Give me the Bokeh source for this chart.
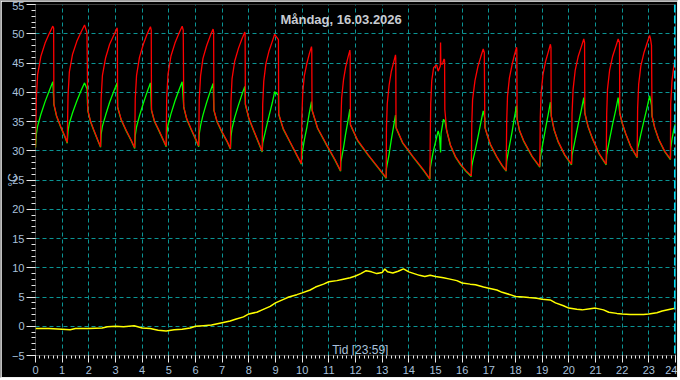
from bokeh.plotting import figure
from bokeh.models import SingleIntervalTicker, Label, Span
from bokeh.embed import file_html
from bokeh.resources import INLINE

# ---------------- data ----------------
title_text = "Måndag, 16.03.2026"
x_label_text = "Tid [23:59]"
y_label_text = "°C"

# supply temperature (red): (hour, °C)
red_pts = [
    (0.00, 30.6), (0.03, 38.9), (0.08, 43.0), (0.20, 46.1), (0.36, 48.4), (0.52, 50.1), (0.65, 51.3), (0.68, 51.0), (0.69, 38.0), (0.79, 36.0), (0.94, 34.2), (1.09, 32.6),
    (1.19, 31.4), (1.22, 39.4), (1.27, 43.5), (1.39, 46.5), (1.55, 48.7), (1.71, 50.3), (1.84, 51.5), (1.93, 50.2), (1.96, 37.0), (2.06, 35.1), (2.20, 33.4), (2.34, 31.8),
    (2.44, 30.7), (2.46, 38.8), (2.51, 42.9), (2.63, 45.9), (2.78, 48.2), (2.94, 49.8), (3.06, 51.0), (3.07, 50.5), (3.08, 37.5), (3.21, 35.4), (3.40, 33.5), (3.59, 31.8),
    (3.72, 30.5), (3.74, 38.8), (3.79, 42.9), (3.90, 46.0), (4.05, 48.3), (4.19, 50.0), (4.31, 51.2), (4.34, 50.6), (4.35, 37.0), (4.46, 35.1), (4.63, 33.5), (4.79, 31.9),
    (4.90, 30.8), (4.92, 39.0), (4.97, 43.1), (5.08, 46.2), (5.23, 48.4), (5.38, 50.1), (5.50, 51.3), (5.54, 50.6), (5.56, 37.5), (5.67, 35.5), (5.84, 33.7), (6.01, 32.0),
    (6.12, 30.8), (6.14, 38.8), (6.19, 42.8), (6.28, 45.8), (6.42, 48.0), (6.55, 49.6), (6.66, 50.8), (6.68, 50.3), (6.69, 37.0), (6.81, 35.0), (7.00, 33.2), (7.19, 31.6),
    (7.31, 30.4), (7.33, 38.4), (7.37, 42.3), (7.47, 45.3), (7.61, 47.5), (7.74, 49.1), (7.85, 50.3), (7.86, 49.8), (7.87, 38.0), (8.00, 35.6), (8.19, 33.4), (8.37, 31.4),
    (8.50, 29.9), (8.52, 37.9), (8.56, 41.9), (8.64, 44.9), (8.76, 47.1), (8.88, 48.7), (8.97, 49.9), (9.11, 49.0), (9.12, 36.3), (9.29, 33.8), (9.55, 31.5), (9.80, 29.3),
    (9.97, 27.8), (9.99, 35.8), (10.02, 39.8), (10.08, 42.8), (10.18, 45.0), (10.27, 46.6), (10.35, 47.8), (10.36, 47.3), (10.37, 37.0), (10.58, 33.9), (10.91, 31.1), (11.23, 28.5),
    (11.44, 26.6), (11.45, 34.8), (11.48, 39.0), (11.55, 42.1), (11.63, 44.3), (11.72, 46.0), (11.79, 47.2), (11.80, 46.5), (11.81, 34.5), (12.08, 31.8), (12.48, 29.3), (12.88, 27.0),
    (13.15, 25.4), (13.16, 33.8), (13.19, 38.0), (13.26, 41.2), (13.34, 43.5), (13.43, 45.1), (13.50, 46.4), (13.51, 45.8), (13.52, 34.0), (13.77, 31.4), (14.16, 29.0), (14.54, 26.8),
    (14.79, 25.2), (14.80, 31.0), (14.82, 38.0), (14.86, 42.0), (14.93, 44.2), (15.04, 44.7), (15.10, 43.6), (15.18, 44.5), (15.19, 48.5), (15.20, 44.8), (15.26, 44.8), (15.32, 45.7),
    (15.34, 45.5), (15.35, 37.0), (15.42, 33.5), (15.56, 31.0), (15.75, 29.0), (15.94, 27.7), (16.14, 26.6),
    (16.34, 25.7), (16.36, 34.4), (16.39, 38.7), (16.48, 42.0), (16.59, 44.4), (16.70, 46.1), (16.79, 47.4), (16.83, 46.8), (16.85, 34.0), (16.95, 32.6), (17.06, 31.1), (17.31, 28.9), (17.50, 27.5),
    (17.65, 26.6), (17.67, 35.0), (17.70, 39.3), (17.77, 42.4), (17.87, 44.7), (17.96, 46.4), (18.04, 47.7), (18.05, 47.2), (18.06, 35.5), (18.15, 33.5), (18.31, 31.7), (18.62, 29.1),
    (18.91, 27.3), (18.93, 35.7), (18.96, 39.8), (19.03, 43.0), (19.13, 45.3), (19.23, 46.9), (19.31, 48.2), (19.33, 47.6), (19.34, 36.0), (19.45, 33.6), (19.60, 31.6), (19.85, 29.3),
    (20.10, 27.7), (20.12, 36.3), (20.16, 40.5), (20.24, 43.8), (20.35, 46.1), (20.47, 47.8), (20.56, 49.1), (20.59, 48.5), (20.60, 36.5), (20.72, 34.2), (20.88, 32.2), (21.14, 29.5),
    (21.40, 27.7), (21.42, 36.3), (21.45, 40.5), (21.53, 43.8), (21.64, 46.1), (21.76, 47.8), (21.85, 49.1), (21.90, 48.5), (21.91, 36.5), (22.00, 34.8), (22.13, 33.0), (22.33, 30.7),
    (22.56, 28.9), (22.58, 37.2), (22.62, 41.4), (22.70, 44.5), (22.82, 46.8), (22.94, 48.5), (23.03, 49.7), (23.06, 49.2), (23.10, 48.0), (23.12, 36.0), (23.22, 34.0), (23.37, 32.0), (23.60, 29.9),
    (23.81, 28.6), (23.82, 38.0), (23.87, 42.0), (23.93, 44.2), (23.99, 45.7),
]

# return temperature (green): (hour, °C)
green_pts = [
    (0.00, 30.5), (0.03, 32.8), (0.08, 34.2), (0.20, 36.2), (0.36, 38.4), (0.52, 40.3), (0.65, 41.8), (0.69, 37.9), (0.79, 35.9), (0.94, 34.1), (1.09, 32.5),
    (1.19, 31.3), (1.22, 33.4), (1.27, 34.7), (1.39, 36.5), (1.55, 38.5), (1.71, 40.3), (1.84, 41.6), (1.93, 40.6), (1.96, 36.9), (2.06, 35.0), (2.20, 33.3), (2.34, 31.7),
    (2.44, 30.6), (2.46, 32.8), (2.51, 34.2), (2.63, 36.1), (2.78, 38.3), (2.94, 40.2), (3.06, 41.6), (3.08, 37.4), (3.21, 35.3), (3.40, 33.4), (3.59, 31.7),
    (3.72, 30.4), (3.74, 32.6), (3.79, 34.1), (3.90, 36.0), (4.05, 38.2), (4.19, 40.1), (4.31, 41.6), (4.35, 36.9), (4.46, 35.0), (4.63, 33.4), (4.79, 31.8),
    (4.90, 30.7), (4.92, 32.9), (4.97, 34.4), (5.08, 36.3), (5.23, 38.5), (5.38, 40.4), (5.50, 41.8), (5.56, 37.4), (5.67, 35.4), (5.84, 33.6), (6.01, 31.9),
    (6.12, 30.7), (6.14, 32.9), (6.19, 34.3), (6.28, 36.1), (6.42, 38.3), (6.55, 40.1), (6.66, 41.5), (6.69, 36.9), (6.81, 34.9), (7.00, 33.1), (7.19, 31.5),
    (7.31, 30.3), (7.33, 32.4), (7.37, 33.8), (7.47, 35.7), (7.61, 37.8), (7.74, 39.6), (7.85, 41.0), (7.87, 37.9), (8.00, 35.5), (8.19, 33.3), (8.37, 31.3),
    (8.50, 29.8), (8.52, 31.3), (8.56, 32.1), (8.64, 33.7), (8.76, 36.0), (8.88, 38.2), (8.97, 40.1), (9.11, 39.5), (9.12, 36.2), (9.29, 33.7), (9.55, 31.4), (9.80, 29.2),
    (9.97, 27.7), (9.99, 29.3), (10.02, 30.1), (10.08, 31.8), (10.18, 34.1), (10.27, 36.5), (10.35, 38.4), (10.37, 36.9), (10.58, 33.8), (10.91, 31.0), (11.23, 28.4),
    (11.44, 26.5), (11.45, 28.1), (11.48, 28.8), (11.55, 30.5), (11.63, 32.9), (11.72, 35.2), (11.79, 37.1), (11.81, 34.4), (12.08, 31.7), (12.48, 29.2), (12.88, 26.9),
    (13.15, 25.3), (13.16, 26.9), (13.19, 27.7), (13.26, 29.4), (13.34, 31.8), (13.43, 34.2), (13.50, 36.1), (13.52, 33.9), (13.77, 31.3), (14.16, 28.9), (14.54, 26.7),
    (14.79, 25.1), (14.80, 27.0), (14.90, 29.5), (15.00, 31.5), (15.10, 33.4), (15.15, 32.5), (15.19, 29.7), (15.21, 33.0), (15.30, 35.4), (15.34, 35.0), (15.35, 35.2),
    (15.42, 33.4), (15.56, 30.9), (15.75, 28.9), (15.94, 27.6), (16.14, 26.5),
    (16.34, 25.6), (16.36, 27.3), (16.39, 28.1), (16.48, 29.9), (16.59, 32.3), (16.70, 34.8), (16.79, 36.8), (16.85, 35.5), (16.86, 33.9), (16.95, 32.5), (17.06, 31.0), (17.31, 28.8), (17.50, 27.4),
    (17.65, 26.5), (17.67, 28.2), (17.70, 29.0), (17.77, 30.8), (17.87, 33.2), (17.96, 35.7), (18.04, 37.7), (18.06, 35.4), (18.15, 33.4), (18.31, 31.6), (18.62, 29.0),
    (18.91, 27.2), (18.93, 28.9), (18.96, 29.6), (19.03, 31.4), (19.13, 33.9), (19.23, 36.3), (19.31, 38.3), (19.34, 35.9), (19.45, 33.5), (19.60, 31.5), (19.85, 29.2),
    (20.10, 27.6), (20.12, 29.3), (20.16, 30.1), (20.24, 32.0), (20.35, 34.5), (20.47, 37.0), (20.56, 39.1), (20.60, 36.4), (20.72, 34.1), (20.88, 32.1), (21.14, 29.4),
    (21.40, 27.6), (21.42, 29.3), (21.45, 30.1), (21.53, 32.0), (21.64, 34.5), (21.76, 37.0), (21.85, 39.1), (21.91, 36.4), (22.00, 34.7), (22.13, 32.9), (22.33, 30.6),
    (22.56, 28.8), (22.58, 30.4), (22.62, 31.1), (22.70, 32.8), (22.82, 35.2), (22.94, 37.5), (23.03, 39.4), (23.10, 37.8), (23.12, 35.9), (23.22, 33.9), (23.37, 31.9), (23.60, 29.8),
    (23.81, 28.5), (23.82, 30.5), (23.87, 32.0), (23.93, 33.5), (23.99, 34.6),
]

# outdoor temperature (yellow): (hour, °C)
outdoor_pts = [
    (0.0, -0.4), (0.5, -0.4), (1.0, -0.5), (1.3, -0.6), (1.5, -0.4), (2.0, -0.4), (2.5, -0.3), (2.7, -0.1), (3.0, 0.0), (3.3, -0.1),
    (3.7, 0.1), (4.0, -0.3), (4.3, -0.4), (4.6, -0.7), (4.9, -0.8), (5.2, -0.6), (5.5, -0.5), (5.8, -0.3), (6.0, 0.0), (6.3, 0.1),
    (6.6, 0.2), (7.0, 0.6), (7.3, 0.9), (7.5, 1.2), (7.8, 1.6), (8.0, 2.1), (8.3, 2.4), (8.5, 2.8), (8.8, 3.4), (9.0, 4.0),
    (9.3, 4.6), (9.5, 5.0), (9.8, 5.4), (10.0, 5.7), (10.3, 6.2), (10.5, 6.7), (10.8, 7.2), (11.0, 7.6), (11.3, 7.8), (11.5, 8.0),
    (11.8, 8.3), (12.0, 8.6), (12.2, 9.0), (12.4, 9.5), (12.6, 9.3), (12.8, 9.0), (13.0, 9.2), (13.1, 9.8), (13.2, 9.3), (13.4, 9.1),
    (13.6, 9.4), (13.8, 9.8), (14.0, 9.3), (14.2, 9.0), (14.4, 8.7), (14.6, 8.5), (14.8, 8.7), (15.0, 8.5), (15.3, 8.3), (15.5, 8.1),
    (15.8, 7.8), (16.0, 7.4), (16.3, 7.2), (16.5, 7.1), (16.8, 6.7), (17.0, 6.5), (17.3, 6.2), (17.5, 5.8), (17.8, 5.4), (18.0, 5.1),
    (18.3, 5.0), (18.5, 4.9), (18.8, 4.8), (19.0, 4.6), (19.3, 4.5), (19.5, 4.0), (19.8, 3.5), (20.0, 3.1), (20.3, 2.9), (20.5, 2.8),
    (20.8, 3.0), (21.0, 3.1), (21.3, 2.8), (21.5, 2.4), (21.8, 2.2), (22.0, 2.1), (22.3, 2.0), (22.5, 2.0), (22.8, 2.0), (23.0, 2.1),
    (23.3, 2.3), (23.5, 2.6), (23.8, 2.9), (24.0, 3.1),
]

now_hour = 23.98  # 23:59 marker

red_h = [h for h, _ in red_pts]
red_v = [v for _, v in red_pts]
green_h = [h for h, _ in green_pts]
green_v = [v for _, v in green_pts]
out_h = [h for h, _ in outdoor_pts]
out_v = [v for _, v in outdoor_pts]

# ---------------- figure ----------------
label_color = "#a9c0dc"
font = "Liberation Sans"

p = figure(
    width=678, height=378,
    x_range=(0, 24), y_range=(-5, 55),
    output_backend="svg", toolbar_location=None,
    background_fill_color="#000000", border_fill_color="#000000",
    outline_line_color=None,
    min_border_left=34, min_border_right=4, min_border_top=3, min_border_bottom=24,
)
p.styles = {
    "border-top": "1px solid #a0a0a0",
    "border-left": "1px solid #a0a0a0",
    "border-right": "1px solid #f0f0f0",
    "border-bottom": "1px solid #f0f0f0",
}

p.xaxis.ticker = SingleIntervalTicker(interval=1, num_minor_ticks=6)
p.yaxis.ticker = SingleIntervalTicker(interval=5, num_minor_ticks=5)
for ax in p.axis:
    ax.axis_line_color = None
    ax.major_tick_line_color = "#e8e8e8"
    ax.minor_tick_line_color = "#e8e8e8"
    ax.major_tick_in = 0
    ax.minor_tick_in = 0
    ax.major_label_text_color = label_color
    ax.major_label_text_font = font
    ax.major_label_text_font_size = "11px"
p.xaxis.major_tick_out = 7
p.xaxis.minor_tick_out = 3
p.xaxis.major_label_standoff = 3
p.yaxis.major_tick_out = 9
p.yaxis.minor_tick_out = 4
p.yaxis.major_label_standoff = 2

# y-axis title drawn by the axis itself, pulled in over the tick-label column
p.yaxis.axis_label = y_label_text
p.yaxis.axis_label_standoff = -11
p.yaxis.axis_label_text_font = font
p.yaxis.axis_label_text_font_style = "normal"
p.yaxis.axis_label_text_font_size = "12px"
p.yaxis.axis_label_text_color = label_color

p.grid.grid_line_color = "#0b9494"
p.grid.grid_line_dash = "4 3"
p.grid.grid_line_width = 1

p.line(out_h, out_v, line_color="#ffff00", line_width=1.5)
p.line(green_h, green_v, line_color="#00ff00", line_width=1.3)
p.line(red_h, red_v, line_color="#ff0000", line_width=1.3)

p.add_layout(Span(location=now_hour, dimension="height", line_color="#00e0f8",
                  line_width=2, line_dash="8 3"))

p.add_layout(Label(x=11.46, y=52.5, text=title_text, text_align="center",
                   text_baseline="middle", text_font=font, text_font_style="bold",
                   text_font_size="13px", text_color="#c8ccd2"))
p.add_layout(Label(x=12.18, y=-4.0, text=x_label_text, text_align="center",
                   text_baseline="middle", text_font=font,
                   text_font_size="12px", text_color=label_color))

open("out.html", "w").write(file_html(p, INLINE))
